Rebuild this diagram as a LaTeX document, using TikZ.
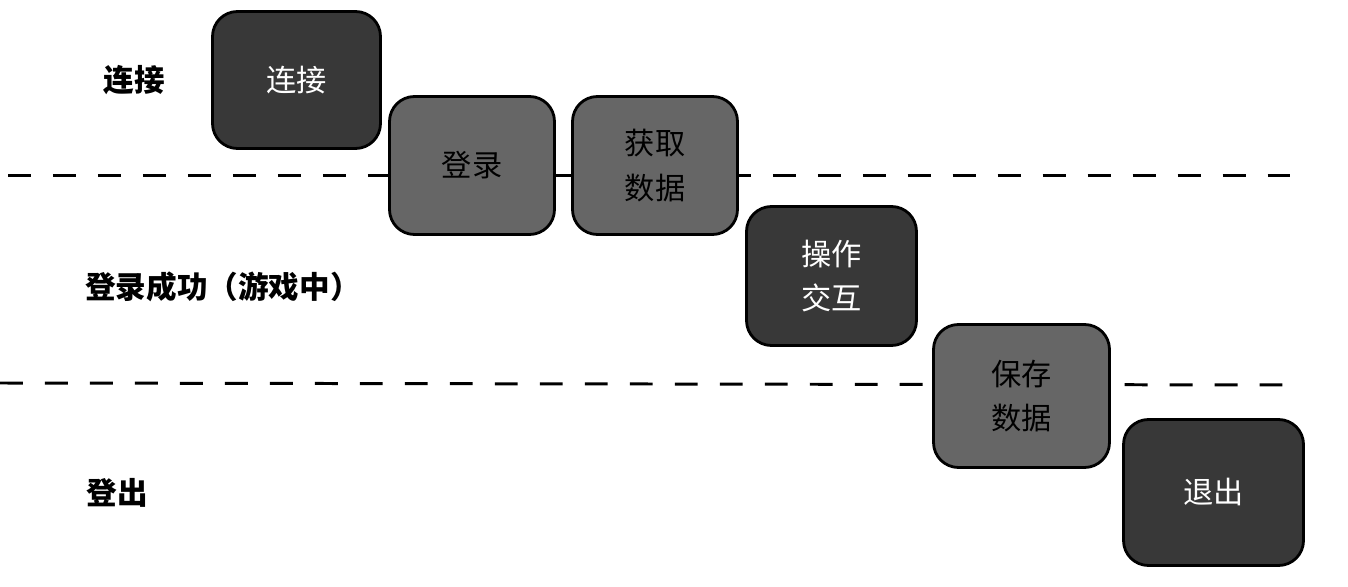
\documentclass[tikz,border=0pt]{standalone}
\usepackage{fontspec}
\setmainfont{Noto Sans CJK SC}
\tikzset{
  darkbox/.style={draw=black, line width=0.8pt, rounded corners=0.25cm,
    fill=black!78, text=white, align=center,
    font=\fontsize{8.6}{12.6}\selectfont},
  graybox/.style={darkbox, fill=black!60, text=black},
  stage/.style={font=\fontsize{8.7}{12}\selectfont\bfseries},
  divider/.style={line width=0.85pt, dash pattern=on 6.5pt off 6.3pt}
}
\begin{document}
\begin{tikzpicture}
  \useasboundingbox (0,0) rectangle (13.48,-5.87);
  \coordinate (d1l) at (0.08,-1.76);
  \coordinate (d1r) at (12.90,-1.76);
  \coordinate (d2l) at (0.00,-3.83);
  \coordinate (d2r) at (12.97,-3.85);
  \draw[divider] (d1l) -- (d1r);
  \draw[divider] (d2l) -- (d2r);
  \node[stage] (connected) at (1.34,-0.80) {连接};
  \node[stage] (ingame) at (2.23,-2.87) {登录成功（游戏中）};
  \node[stage] (loggedout) at (1.17,-4.93) {登出};
  \node[darkbox, minimum width=1.68cm, minimum height=1.37cm]
    (connect) at (2.965,-0.80) {连接};
  \node[graybox, minimum width=1.65cm, minimum height=1.38cm]
    (login) at (4.72,-1.655) {登录};
  \node[graybox, minimum width=1.65cm, minimum height=1.38cm]
    (fetch) at (6.55,-1.655) {获取\\数据};
  \node[darkbox, minimum width=1.70cm, minimum height=1.39cm]
    (interact) at (8.315,-2.76) {操作\\交互};
  \node[graybox, minimum width=1.76cm, minimum height=1.43cm]
    (save) at (10.215,-3.96) {保存\\数据};
  \node[darkbox, minimum width=1.80cm, minimum height=1.46cm]
    (quit) at (12.135,-4.925) {退出};
\end{tikzpicture}
\end{document}
